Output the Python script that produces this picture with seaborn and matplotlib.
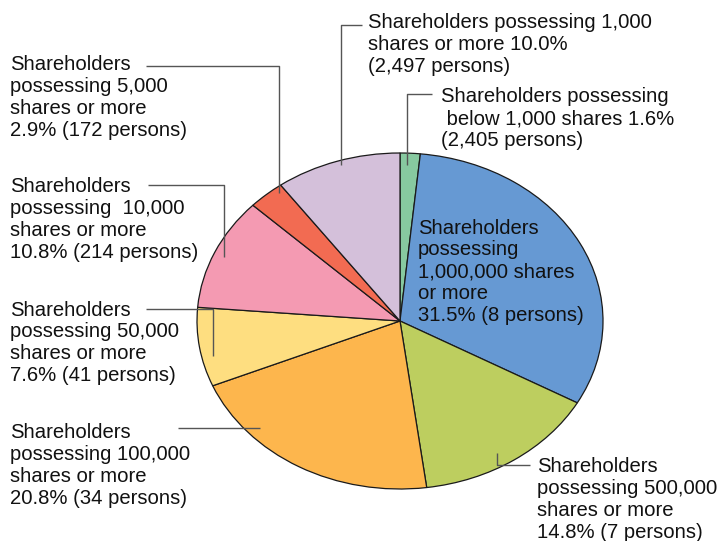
import matplotlib
matplotlib.use("Agg")
import matplotlib.pyplot as plt
import seaborn as sns

# ---- data ----
categories = [
    "below 1,000 shares",
    "1,000,000 shares or more",
    "500,000 shares or more",
    "100,000 shares or more",
    "50,000 shares or more",
    "10,000 shares or more",
    "5,000 shares or more",
    "1,000 shares or more",
]
share_pct = [1.6, 31.5, 14.8, 20.8, 7.6, 10.8, 2.9, 10.0]
persons = [2405, 8, 7, 34, 41, 214, 172, 2497]
label_texts = [
    "Shareholders possessing\n below 1,000 shares 1.6%\n(2,405 persons)",
    "Shareholders\npossessing\n1,000,000 shares\nor more\n31.5% (8 persons)",
    "Shareholders\npossessing 500,000\nshares or more\n14.8% (7 persons)",
    "Shareholders\npossessing 100,000\nshares or more\n20.8% (34 persons)",
    "Shareholders\npossessing 50,000\nshares or more\n7.6% (41 persons)",
    "Shareholders\npossessing  10,000\nshares or more\n10.8% (214 persons)",
    "Shareholders\npossessing 5,000\nshares or more\n2.9% (172 persons)",
    "Shareholders possessing 1,000\nshares or more 10.0%\n(2,497 persons)",
]
slice_colors = ["#87C9A0", "#6699D3", "#BDCE5F", "#FDB64D",
                "#FEDE80", "#F49AB2", "#F26B52", "#D4C0DA"]

sns.set_theme(style="white")
plt.rcParams["font.family"] = ["Liberation Sans", "DejaVu Sans"]
palette = sns.color_palette(slice_colors)

W, H = 721, 541
fig = plt.figure(figsize=(W / 100, H / 100), dpi=100)

# pie axes stretched to the ellipse bounding box
left, right, top, bottom = 197, 603, 153, 489
ax = fig.add_axes([left / W, (H - bottom) / H, (right - left) / W, (bottom - top) / H])
wedges, _ = ax.pie(share_pct, colors=palette, startangle=90, counterclock=False,
                   wedgeprops=dict(edgecolor="#1a1a1a", linewidth=0.9))
for w in wedges:
    w.set_clip_on(False)
ax.set_aspect("auto")
ax.set_xlim(-1, 1)
ax.set_ylim(-1, 1)
ax.axis("off")

# overlay axes in pixel coordinates for labels and leaders
ov = fig.add_axes([0, 0, 1, 1])
ov.set_xlim(0, W)
ov.set_ylim(H, 0)
ov.axis("off")
ov.patch.set_alpha(0)

text_pos = [(441, 96), (418, 227), (537, 466), (10, 432),
            (10, 309), (10, 186), (10, 64), (368, 22)]
leaders = [
    [(432, 94), (407, 94), (407, 165)],
    None,
    [(530, 465), (497, 465), (497, 453)],
    [(178, 428), (260, 428)],
    [(146, 309), (213, 309), (213, 356)],
    [(148, 185), (224, 185), (224, 257)],
    [(146, 66), (279, 66), (279, 193)],
    [(362, 25), (341, 25), (341, 165)],
]
fs = 14.6
for txt, (x, y), ld in zip(label_texts, text_pos, leaders):
    ov.text(x, y - 8.5, txt, fontsize=fs, color="#111111", ha="left", va="top",
            linespacing=1.19)
    if ld:
        xs, ys = zip(*ld)
        ov.plot(xs, ys, color="#555555", lw=1.0, solid_capstyle="butt")

fig.savefig("out.png", dpi=100)
